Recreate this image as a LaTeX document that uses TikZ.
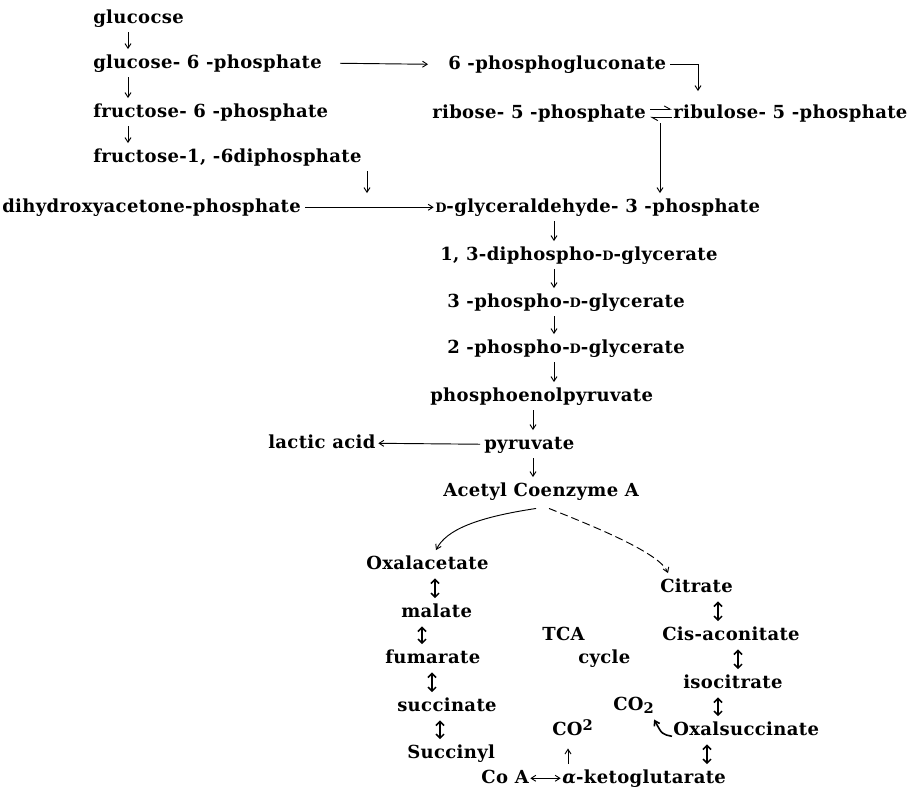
\documentclass[tikz,border=0pt]{standalone}
\usepackage{fontspec}
\setmainfont{DejaVu Serif}[LetterSpace=2]
\usetikzlibrary{arrows.meta}
\newcommand\Dsc{{\fontsize{9.7}{10}\selectfont D}}
\begin{document}
\begin{tikzpicture}[x=0.75pt,y=-0.75pt,
  lbl/.style={anchor=base west, inner xsep=0pt, inner ysep=3.5pt, text height=10.5pt, text depth=3.4pt, font=\fontsize{13.5}{16}\selectfont\bfseries},
  arr/.style={line width=0.7pt, -{Straight Barb[length=3.5pt,width=4.5pt]}},
  harp/.style={line width=0.7pt, -{Straight Barb[harpoon,length=4.5pt,width=5pt]}},
  dbl/.style={line width=1.1pt, {Straight Barb[length=3pt,width=6pt]}-{Straight Barb[length=3pt,width=6pt]}},
  dblthin/.style={line width=0.7pt, {Straight Barb[length=3.5pt,width=4.5pt]}-{Straight Barb[length=3.5pt,width=4.5pt]}}]
\fill[white] (0,0) rectangle (914,789);
\useasboundingbox (0,0) rectangle (914,789);
% column coordinates
\coordinate (xa) at (128,0);
\coordinate (xf) at (367,0);
\coordinate (xg) at (554,0);
\coordinate (xp) at (533,0);
\coordinate (xco) at (568,0);
\coordinate (x340) at (340,0);
\coordinate (x428) at (428,0);
\coordinate (x670) at (670,0);
\coordinate (x698) at (698,0);
\coordinate (x436) at (436,0);
\coordinate (x668) at (668,0);
\coordinate (x435) at (435,0);
\coordinate (x422) at (422,0);
\coordinate (x432) at (432,0);
\coordinate (x440) at (440,0);
\coordinate (x718) at (718,0);
\coordinate (x738) at (738,0);
\coordinate (x707) at (707,0);
% nodes
\node[lbl] (glu) at (93,23) {glucocse};
\node[lbl] (g6p) at (93,68) {glucose- 6 -phosphate};
\node[lbl] (f6p) at (93,117) {fructose- 6 -phosphate};
\node[lbl] (f16) at (93,162) {fructose-1, -6diphosphate};
\node[lbl] (dhap) at (2,212) {dihydroxyacetone-phosphate};
\node[lbl] (gap) at (435,212) {\Dsc-glyceraldehyde- 3 -phosphate};
\node[lbl] (pgl) at (448,69) {6 -phosphogluconate};
\node[lbl] (r5p) at (432,118) {ribose- 5 -phosphate};
\node[lbl] (ru5p) at (673,118) {ribulose- 5 -phosphate};
\node[lbl] (bpg) at (440,260) {1, 3-diphospho-\Dsc-glycerate};
\node[lbl] (pg3) at (447,307) {3 -phospho-\Dsc-glycerate};
\node[lbl] (pg2) at (447,353) {2 -phospho-\Dsc-glycerate};
\node[lbl] (pep) at (430,401) {phosphoenolpyruvate};
\node[lbl] (pyr) at (484,449) {pyruvate};
\node[lbl] (lac) at (268,448) {lactic acid};
\node[lbl] (acoa) at (443,496) {Acetyl Coenzyme A};
\node[lbl] (oaa) at (366,569) {Oxalacetate};
\node[lbl] (mal) at (401,617) {malate};
\node[lbl] (fum) at (385,663) {fumarate};
\node[lbl] (suc) at (397,711) {succinate};
\node[lbl] (scoa) at (407,758) {Succinyl};
\node[lbl, anchor=base east] (coa) at (529,783) {Co A};
\node[lbl] (akg) at (562,783) {{\itshape α}-ketoglutarate};
\node[lbl] (tca) at (542,640) {TCA};
\node[lbl] (cyc) at (578,663) {cycle};
\node[lbl] (co2a) at (552,735) {CO\raisebox{0.45ex}{\fontsize{11}{11}\selectfont 2}};
\node[lbl] (cit) at (660,592) {Citrate};
\node[lbl] (cis) at (662,640) {Cis-aconitate};
\node[lbl] (iso) at (683,688) {isocitrate};
\node[lbl] (co2b) at (613,710) {CO\raisebox{-0.35ex}{\fontsize{11}{11}\selectfont 2}};
\node[lbl] (oxs) at (673,735) {Oxalsuccinate};
% glycolysis, left column
\draw[arr] (glu.south -| xa) -- (g6p.north -| xa);
\draw[arr] (g6p.south -| xa) -- (f6p.north -| xa);
\draw[arr] (f6p.south -| xa) -- (f16.north -| xa);
\draw[arr] (f16.south -| xf) -- (dhap.north -| xf);
\draw[arr, shorten <=3pt, shorten >=1pt] (dhap.east) -- (gap.west);
% pentose phosphate branch
\draw[arr] (g6p.east -| x340) -- (pgl.west -| x428);
\draw[arr, shorten >=6pt] (pgl.east -| x670) -| (ru5p.north -| x698);
\draw[harp] ([shift={(-23,-4)}]ru5p.west) -- ([shift={(-1,-4)}]ru5p.west);
\draw[harp] ([shift={(-1,4)}]ru5p.west) -- ([shift={(-23,4)}]ru5p.west);
\coordinate (rj) at ([shift={(-13,10)}]ru5p.west);
\draw[arr] (rj) -- (rj |- gap.north);
% center column
\draw[arr] (gap.south -| xg) -- (bpg.north -| xg);
\draw[arr] (bpg.south -| xg) -- (pg3.north -| xg);
\draw[arr] (pg3.south -| xg) -- (pg2.north -| xg);
\draw[arr] (pg2.south -| xg) -- (pep.north -| xg);
\draw[arr] (pep.south -| xp) -- (pyr.north -| xp);
\draw[arr] (pyr.south -| xp) -- (acoa.north -| xp);
\draw[arr, shorten <=3pt, shorten >=2pt] (pyr.west) -- (lac.east);
% into TCA cycle
\draw[arr] ([shift={(-5,3)}]acoa.south) .. controls +(-60,9) and +(10,-20) .. (oaa.north -| x436);
\draw[arr, dash pattern=on 6pt off 3pt] ([shift={(8,3)}]acoa.south) .. controls +(45,18) and +(-8,-20) .. (cit.north -| x668);
% TCA cycle
\draw[dbl] (oaa.south -| x435) -- (mal.north -| x435);
\draw[dbl] (mal.south -| x422) -- (fum.north -| x422);
\draw[dbl] (fum.south -| x432) -- (suc.north -| x432);
\draw[dbl] (suc.south -| x440) -- (scoa.north -| x440);
\draw[dbl] (cit.south -| x718) -- (cis.north -| x718);
\draw[dbl] (cis.south -| x738) -- (iso.north -| x738);
\draw[dbl] (iso.south -| x718) -- (oxs.north -| x718);
\draw[dbl] (oxs.south -| x707) -- (akg.north -| x707);
\draw[dblthin, shorten <=1pt, shorten >=1pt] (coa.east) -- (akg.west);
\draw[arr, shorten >=3pt] (akg.north -| xco) -- (co2a.south -| xco);
\draw[arr, line width=1.2pt] ([shift={(-1,6)}]oxs.west) .. controls +(-10,-2) .. (co2b.south east);
\end{tikzpicture}
\end{document}
